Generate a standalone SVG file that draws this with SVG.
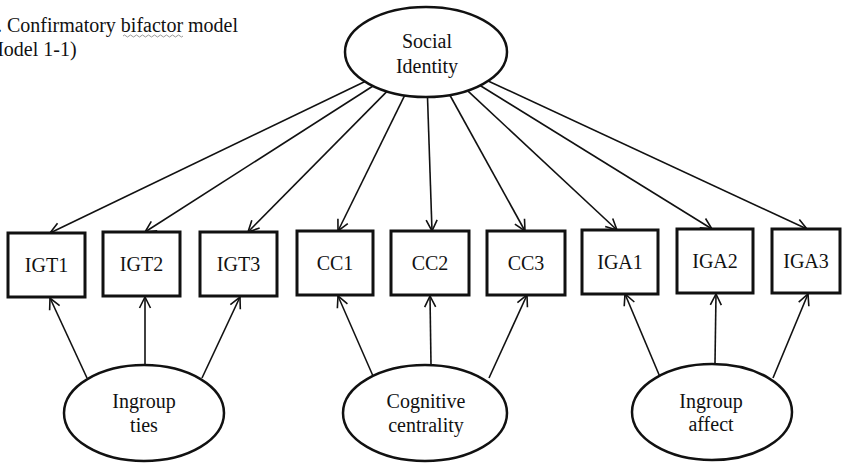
<svg xmlns="http://www.w3.org/2000/svg" width="842" height="464" viewBox="0 0 842 464">
<defs>
<marker id="arr" markerUnits="userSpaceOnUse" markerWidth="14" markerHeight="14" refX="12" refY="7" orient="auto">
<path d="M1,1.5 L12,7 L1,12.5" fill="none" stroke="#111" stroke-width="1.6"/>
</marker>
</defs>
<style>
text{font-family:'Liberation Serif','DejaVu Serif',serif;font-size:20px;fill:#111}
.c{text-anchor:middle}
.box{fill:#fff;stroke:#111;stroke-width:3}
.ell{fill:#fff;stroke:#111;stroke-width:2.5}
.edge{stroke:#111;stroke-width:1.6;fill:none;marker-end:url(#arr)}
</style>
<rect width="842" height="464" fill="#fff"/>
<g id="title" font-family="Liberation Serif, serif">
<text x="-3" y="32">. Confirmatory bifactor model</text>
<path d="M123,36 q1.5,-2 3,0 t3,0 t3,0 t3,0 t3,0 t3,0 t3,0 t3,0 t3,0 t3,0 t3,0 t3,0 t3,0 t3,0 t3,0 t3,0 t3,0 t3,0 t3,0 t3,0" fill="none" stroke="#999" stroke-width="1"/>
<text x="-14" y="56">Model 1-1)</text>
</g>
<g id="connectors">
<line class="edge" x1="365" y1="81.5" x2="50" y2="233"/>
<line class="edge" x1="373" y1="86" x2="145" y2="232"/>
<line class="edge" x1="387" y1="91.4" x2="248" y2="232"/>
<line class="edge" x1="404.7" y1="95.4" x2="338" y2="231"/>
<line class="edge" x1="427.5" y1="97" x2="432" y2="231"/>
<line class="edge" x1="449.8" y1="95" x2="525" y2="231"/>
<line class="edge" x1="467.5" y1="90.6" x2="617" y2="230"/>
<line class="edge" x1="480.1" y1="85.5" x2="712" y2="229"/>
<line class="edge" x1="488.1" y1="80.9" x2="807" y2="229"/>
<line class="edge" x1="87" y1="378" x2="50" y2="298"/>
<line class="edge" x1="145" y1="365" x2="145" y2="297"/>
<line class="edge" x1="202" y1="378" x2="240" y2="297"/>
<line class="edge" x1="373" y1="376" x2="338" y2="296"/>
<line class="edge" x1="431" y1="365" x2="430" y2="296"/>
<line class="edge" x1="489" y1="378" x2="527" y2="295"/>
<line class="edge" x1="660" y1="377" x2="625" y2="294"/>
<line class="edge" x1="715" y1="363" x2="716" y2="294"/>
<line class="edge" x1="773" y1="378" x2="808" y2="294"/>
</g>
<g id="social-identity">
<ellipse class="ell" cx="426" cy="52" rx="81" ry="45"/>
<text class="c" x="427" y="48">Social</text>
<text class="c" x="427" y="73">Identity</text>
</g>
<g id="IGT1"><rect class="box" x="8" y="233" width="77" height="64"/><text class="c" x="46.5" y="272">IGT1</text></g>
<g id="IGT2"><rect class="box" x="103" y="232" width="77" height="64"/><text class="c" x="141.5" y="271">IGT2</text></g>
<g id="IGT3"><rect class="box" x="200" y="232" width="77" height="64"/><text class="c" x="238.5" y="271">IGT3</text></g>
<g id="CC1"><rect class="box" x="297" y="231" width="76" height="64"/><text class="c" x="335" y="270">CC1</text></g>
<g id="CC2"><rect class="box" x="391" y="231" width="78" height="64"/><text class="c" x="430" y="270">CC2</text></g>
<g id="CC3"><rect class="box" x="487" y="231" width="78" height="64"/><text class="c" x="526" y="270">CC3</text></g>
<g id="IGA1"><rect class="box" x="582" y="230" width="76" height="64"/><text class="c" x="620" y="269">IGA1</text></g>
<g id="IGA2"><rect class="box" x="677" y="229" width="76" height="64"/><text class="c" x="715" y="268">IGA2</text></g>
<g id="IGA3"><rect class="box" x="772" y="229" width="68" height="64"/><text class="c" x="806" y="268">IGA3</text></g>
<g id="ingroup-ties">
<ellipse class="ell" cx="144" cy="413" rx="80" ry="48"/>
<text class="c" x="144" y="408">Ingroup</text>
<text class="c" x="144" y="432">ties</text>
</g>
<g id="cognitive-centrality">
<ellipse class="ell" cx="425" cy="413" rx="82" ry="48"/>
<text class="c" x="426" y="408">Cognitive</text>
<text class="c" x="426" y="432">centrality</text>
</g>
<g id="ingroup-affect">
<ellipse class="ell" cx="712" cy="412" rx="80" ry="48"/>
<text class="c" x="711" y="408">Ingroup</text>
<text class="c" x="711" y="431">affect</text>
</g>
</svg>
